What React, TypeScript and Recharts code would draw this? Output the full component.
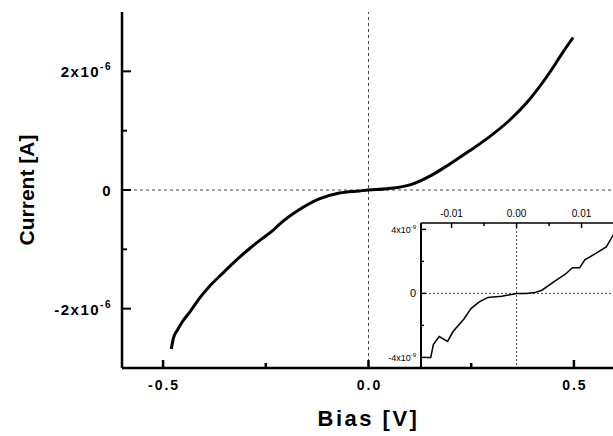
import * as React from 'react';
import { LineChart, Line, XAxis, YAxis, ReferenceLine } from 'recharts';

const FONT = '"Liberation Sans", Arial, Helvetica, sans-serif';

// main I-V sweep (bias in V, current in A)
const mainBias = [
  -0.48, -0.475, -0.465, -0.453, -0.432, -0.412, -0.388, -0.356, -0.323, -0.29, -0.259,
  -0.234, -0.217, -0.168, -0.12, -0.071, -0.022, 0, 0.044, 0.107, 0.154,
  0.198, 0.246, 0.295, 0.344, 0.385, 0.441, 0.473, 0.498,
];
const mainCurrent = [
  -2.68e-6, -2.5e-6, -2.36e-6, -2.22e-6, -2.03e-6, -1.83e-6, -1.63e-6, -1.41e-6, -1.19e-6, -0.99e-6, -0.82e-6,
  -0.69e-6, -0.58e-6, -0.33e-6, -0.15e-6, -0.05e-6, -0.015e-6, 0, 0.02e-6, 0.1e-6, 0.25e-6,
  0.44e-6, 0.66e-6, 0.9e-6, 1.18e-6, 1.47e-6, 1.98e-6, 2.32e-6, 2.57e-6,
];

// inset: zoom around zero bias
const insetBias = [
  -0.0139, -0.0132, -0.0128, -0.0119, -0.0106, -0.0098, -0.0081, -0.007, -0.0058, -0.0044,
  -0.0023, -0.001, 0, 0.0015, 0.0028, 0.0039, 0.006, 0.0075, 0.0086, 0.0097,
  0.0105, 0.0122, 0.0138, 0.0148, 0.0153,
];
const insetCurrent = [
  -4.0e-9, -4.0e-9, -3.2e-9, -2.7e-9, -3.0e-9, -2.4e-9, -1.6e-9, -0.95e-9, -0.55e-9, -0.25e-9,
  -0.18e-9, -0.08e-9, 0, 0, 0.05e-9, 0.2e-9, 0.8e-9, 1.2e-9, 1.6e-9, 1.6e-9,
  2.1e-9, 2.5e-9, 2.9e-9, 3.6e-9, 4.0e-9,
];

const mainXTicks = [-0.5, -0.25, 0, 0.25, 0.5];
const mainXLabels = ['-0.5', '', '0.0', '', '0.5'];
const mainYTicks = [-2e-6, -1e-6, 0, 1e-6, 2e-6];
const mainYLabels = ['-2x10^-6', '', '0', '', '2x10^-6'];

const insetXTicks = [-0.01, -0.005, 0, 0.005, 0.01];
const insetXLabels = ['-0.01', '', '0.00', '', '0.01'];
const insetYTicks = [-4e-9, -2e-9, 0, 2e-9, 4e-9];
const insetYLabels = ['-4x10^-9', '', '0', '', '4x10^-9'];

const mainData = mainBias.map((v, i) => ({ v, i: mainCurrent[i] }));
const insetData = insetBias.map((v, i) => ({ v, i: insetCurrent[i] }));

function sciText(label: string, supSize: number, supDy: number) {
  const [base, exp] = label.split('^');
  return (
    <>
      {base}
      {exp && (
        <tspan dy={supDy} fontSize={supSize}>
          {exp}
        </tspan>
      )}
    </>
  );
}

// ticks point into the plot; x/y sit on the axis line (tickSize 0)
const MainXTick = (props: any) => {
  const { x, y, payload } = props;
  const label = mainXLabels[mainXTicks.indexOf(payload.value)];
  return (
    <g>
      <path d={`M${x},${y}V${y - (label ? 8 : 5)}`} stroke="#000" strokeWidth={2.5} />
      {label && (
        <text x={x + 1} y={y + 22} textAnchor="middle" fontFamily={FONT} fontWeight="bold" fontSize={14} letterSpacing={2} fill="#000">
          {label}
        </text>
      )}
    </g>
  );
};

const MainYTick = (props: any) => {
  const { x, y, payload } = props;
  const label = mainYLabels[mainYTicks.indexOf(payload.value)];
  return (
    <g>
      <path d={`M${x},${y}H${x + (label ? 9 : 5)}`} stroke="#000" strokeWidth={2} />
      {label && (
        <text x={x - 10} y={y + 6} textAnchor="end" fontFamily={FONT} fontWeight="bold" fontSize={15} letterSpacing={1.5} fill="#000">
          {sciText(label, 10, -7)}
        </text>
      )}
    </g>
  );
};

const InsetXTick = (props: any) => {
  const { x, y, payload } = props;
  const label = insetXLabels[insetXTicks.indexOf(payload.value)];
  return (
    <g>
      <path d={`M${x},${y}V${y + (label ? 5 : 3)}`} stroke="#000" strokeWidth={1.5} />
      {label && (
        <text x={x} y={y - 6} textAnchor="middle" fontFamily={FONT} fontSize={10} fill="#000">
          {label}
        </text>
      )}
    </g>
  );
};

const InsetYTick = (props: any) => {
  const { x, y, payload } = props;
  const label = insetYLabels[insetYTicks.indexOf(payload.value)];
  return (
    <g>
      <path d={`M${x},${y}H${x + (label ? 5 : 3)}`} stroke="#000" strokeWidth={1.5} />
      {label && (
        <text x={x - 5} y={y + 4} textAnchor="end" fontFamily={FONT} fontSize={label === '0' ? 11 : 9} fill="#000">
          {sciText(label, 6, -4)}
        </text>
      )}
    </g>
  );
};

const CurrentTitle = (props: any) => {
  const { viewBox } = props;
  const cx = viewBox.x + 26;
  const cy = viewBox.y + viewBox.height / 2;
  return (
    <text
      x={cx}
      y={cy}
      transform={`rotate(-90, ${cx}, ${cy})`}
      textAnchor="middle"
      dominantBaseline="central"
      fontFamily={FONT}
      fontWeight="bold"
      fontSize={21}
      fill="#000"
    >
      Current [A]
    </text>
  );
};

export default function App() {
  return (
    <div style={{ position: 'fixed', left: 0, top: 0, width: 613, height: 436, overflow: 'hidden', background: '#fff' }}>
      <LineChart width={640} height={436} data={mainData} margin={{ top: 12, right: 25, bottom: 0, left: 0 }}>
        <XAxis
          dataKey="v"
          type="number"
          domain={[-0.6, 0.6]}
          ticks={mainXTicks}
          interval={0}
          allowDataOverflow
          height={68}
          tickLine={false}
          tickSize={0}
          tickMargin={0}
          tick={<MainXTick />}
          axisLine={{ stroke: '#000', strokeWidth: 2.5 }}
          label={{ value: 'Bias [V]', position: 'insideBottom', offset: 10, fill: '#000', fontSize: 22, fontWeight: 'bold', fontFamily: FONT, letterSpacing: 2.5 }}
        />
        <XAxis
          xAxisId="top"
          orientation="top"
          type="number"
          domain={[-0.6, 0.6]}
          height={0}
          tick={false}
          tickLine={false}
          axisLine={{ stroke: '#000', strokeWidth: 1.5 }}
        />
        <YAxis
          type="number"
          domain={[-3e-6, 3e-6]}
          ticks={mainYTicks}
          interval={0}
          allowDataOverflow
          width={122}
          tickLine={false}
          tickSize={0}
          tickMargin={0}
          tick={<MainYTick />}
          axisLine={{ stroke: '#000', strokeWidth: 2.5 }}
          label={(p: any) => <CurrentTitle {...p} />}
        />
        <YAxis
          yAxisId="right"
          orientation="right"
          type="number"
          domain={[-3e-6, 3e-6]}
          width={0}
          tick={false}
          tickLine={false}
          axisLine={{ stroke: '#000', strokeWidth: 1.5 }}
        />
        <ReferenceLine y={0} stroke="#444" strokeWidth={1} strokeDasharray="3 3" />
        <ReferenceLine x={0} stroke="#444" strokeWidth={1} strokeDasharray="3 3" />
        <Line type="monotone" dataKey="i" stroke="#000" strokeWidth={3} dot={false} isAnimationActive={false} />
      </LineChart>

      <div style={{ position: 'absolute', left: 381, top: 201 }}>
        <LineChart width={235} height={166} data={insetData} margin={{ top: 0, right: 0, bottom: 0, left: 0 }}>
          <XAxis
            dataKey="v"
            type="number"
            orientation="top"
            domain={[-0.0147, 0.0153]}
            ticks={insetXTicks}
            interval={0}
            allowDataOverflow
            height={22}
            tickLine={false}
            tickSize={0}
            tickMargin={0}
            tick={<InsetXTick />}
            axisLine={{ stroke: '#000', strokeWidth: 1.5 }}
          />
          <YAxis
            type="number"
            domain={[-4.6e-9, 4.4e-9]}
            ticks={insetYTicks}
            interval={0}
            allowDataOverflow
            width={40}
            tickLine={false}
            tickSize={0}
            tickMargin={0}
            tick={<InsetYTick />}
            axisLine={{ stroke: '#000', strokeWidth: 2 }}
          />
          <ReferenceLine y={0} stroke="#444" strokeWidth={1} strokeDasharray="2 2" />
          <ReferenceLine x={0} stroke="#444" strokeWidth={1} strokeDasharray="2 2" />
          <Line type="linear" dataKey="i" stroke="#000" strokeWidth={1.5} dot={false} isAnimationActive={false} />
        </LineChart>
      </div>
    </div>
  );
}
